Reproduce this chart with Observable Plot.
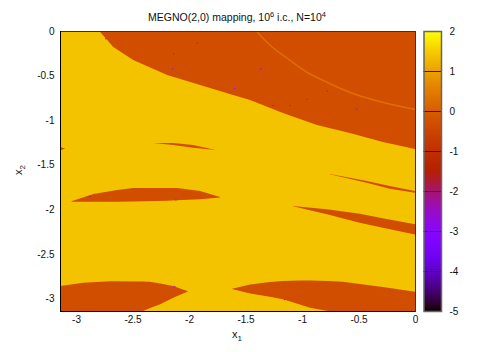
<!DOCTYPE html>
<html>
<head>
<meta charset="utf-8">
<script src="https://cdn.jsdelivr.net/npm/d3@7"></script>
<script src="https://cdn.jsdelivr.net/npm/@observablehq/plot@0.6"></script>
<style>
html,body{margin:0;padding:0;background:#fff}
#chart{position:relative;width:502px;height:352px;overflow:hidden;font-family:"Liberation Sans",sans-serif;color:#111}
#chart svg{position:absolute;left:0;top:0;background:transparent}
.lab{position:absolute;font-size:10px;line-height:12px;white-space:nowrap}
.lab sup{font-size:7.5px;line-height:0}
.lab sub{font-size:8px;line-height:0}
</style>
</head>
<body>
<div id="chart">
<div class="lab" id="title" style="left:0;width:474px;top:11px;text-align:center;font-size:10.5px">MEGNO(2,0) mapping, 10<sup>6</sup> i.c., N=10<sup>4</sup></div>
<div class="lab" style="left:232px;top:328px;font-size:11px">x<sub>1</sub></div>
<div class="lab" style="left:13px;top:164px;font-size:11px;transform:rotate(-90deg)">x<sub>2</sub></div>
</div>
<script>
const PI = Math.PI;
const xTicks = [-3, -2.5, -2, -1.5, -1, -0.5, 0];
const yTicks = [-3, -2.5, -2, -1.5, -1, -0.5, 0];
const barTicks = [-5, -4, -3, -2, -1, 0, 1, 2];
const chaoticLevel = 1.4;
const regularLevel = -0.3;
const ringLevel = 0.3;

const bigX = [-2.786, -2.67, -2.494, -2.193, -1.902, -1.61, -1.46, -1.169, -0.868, -0.577, -0.285, 0];
const bigLow = [-0.01, -0.18, -0.325, -0.494, -0.606, -0.718, -0.774, -0.92, -1.055, -1.145, -1.246, -1.324];

const ringX = [-1.398, -1.284, -1.133, -0.957, -0.78, -0.577, -0.285, 0];
const ringY = [-0.01, -0.157, -0.303, -0.46, -0.572, -0.685, -0.797, -0.875];

const lens1X = [-2.317, -2.14, -1.964, -1.761];
const lens1Top = [-1.257, -1.257, -1.279, -1.336];
const lens1Low = [-1.257, -1.279, -1.31, -1.336];

const sliverX = [-PI, -3.095];
const sliverTop = [-1.302, -1.319];
const sliverLow = [-1.341, -1.319];

const lens2X = [-3.04, -2.847, -2.635, -2.494, -2.193, -2.105, -1.902, -1.725];
const lens2Top = [-1.911, -1.829, -1.785, -1.762, -1.762, -1.762, -1.796, -1.863];
const lens2Low = [-1.915, -1.916, -1.916, -1.914, -1.905, -1.9, -1.889, -1.869];

const botLeftX = [-PI, -2.935, -2.697, -2.405, -2.344, -2.255, -2.14, -2.01];
const botLeftTop = [-2.862, -2.825, -2.809, -2.811, -2.814, -2.834, -2.862, -2.921];
const botLeftLow = [-PI, -PI, -PI, -PI, -3.109, -3.067, -2.993, -2.924];

const botMidX = [-1.619, -1.46, -1.284, -1.169, -1.019, -0.93, -0.771, -0.639, -0.285, 0];
const botMidTop = [-2.892, -2.843, -2.817, -2.806, -2.798, -2.8, -2.806, -2.814, -2.873, -2.926];
const botMidLow = [-2.895, -2.944, -2.982, -3.011, -3.07, -3.105, -PI, -PI, -PI, -PI];

const lensAX = [-1.08, -0.78, -0.489, -0.285, 0];
const lensATop = [-1.964, -2.001, -2.05, -2.102, -2.169];
const lensALow = [-1.966, -2.057, -2.152, -2.208, -2.282];

const lensBX = [-0.754, -0.427, -0.224, 0];
const lensBTop = [-1.605, -1.683, -1.74, -1.796];
const lensBLow = [-1.607, -1.703, -1.77, -1.815];

const speckX = [-2.74, -1.93, -2.14, -2.15, -1.6, -1.26, -1.11, -0.96, -0.78, -0.52, -1.37, -2.88, -2.12, -2.13, -1.16];
const speckY = [-0.08, -0.13, -0.25, -0.42, -0.64, -0.83, -0.83, -0.76, -0.67, -0.87, -0.42, -1.85, -1.89, -2.86, -3.01];

const palette = t => d3.rgb(255 * Math.sqrt(t), 255 * t * t * t, 255 * Math.max(0, Math.sin(2 * PI * t))).formatRgb();
const color = {type: "linear", domain: [-5, 2], interpolate: palette};

const table = (xs, tops, lows) => xs.map((x, i) => ({x, top: tops[i], low: lows[i]}));
const patch = (xs, tops, lows) =>
  Plot.areaY(table(xs, tops, lows), {x: "x", y1: "low", y2: "top", fill: () => regularLevel});

const main = Plot.plot({
  width: 502, height: 352,
  marginLeft: 60, marginRight: 87, marginTop: 31, marginBottom: 41,
  style: {fontFamily: "'Liberation Sans',sans-serif", fontSize: "10px", color: "#111"},
  x: {domain: [-PI, 0], ticks: xTicks, tickSize: 0, tickPadding: 4, tickFormat: d => String(d), label: null},
  y: {domain: [-PI, 0], ticks: yTicks, tickSize: 0, tickPadding: 6, tickFormat: d => String(d), label: null},
  color,
  marks: [
    Plot.rect([0], {x1: () => -PI, x2: () => 0, y1: () => -PI, y2: () => 0, fill: () => chaoticLevel}),
    patch(bigX, Array(bigX.length).fill(0), bigLow),
    patch(lens1X, lens1Top, lens1Low),
    patch(sliverX, sliverTop, sliverLow),
    patch(lens2X, lens2Top, lens2Low),
    patch(botLeftX, botLeftTop, botLeftLow),
    patch(botMidX, botMidTop, botMidLow),
    patch(lensAX, lensATop, lensALow),
    patch(lensBX, lensBTop, lensBLow),
    Plot.line(table(ringX, ringY, ringY), {x: "x", y: "top", stroke: () => ringLevel, strokeWidth: 1.5, curve: "monotone-x"}),
    Plot.dot(speckX.map((x, i) => ({x, y: speckY[i]})), {x: "x", y: "y", r: 0.6, fill: () => -3}),
    Plot.frame({stroke: "#333"}),
    Plot.ruleX([-PI], {stroke: "#000"}),
    Plot.ruleY([-PI], {stroke: "#000"})
  ]
});

const bar = Plot.plot({
  width: 502, height: 352,
  marginLeft: 423.5, marginRight: 61, marginTop: 31, marginBottom: 41,
  style: {fontFamily: "'Liberation Sans',sans-serif", fontSize: "10px", color: "#111", background: "transparent"},
  x: {domain: [0, 1], axis: null},
  y: {domain: [-5, 2], axis: "right", ticks: barTicks, tickSize: 0, tickPadding: 8, tickFormat: d => String(d), label: null},
  color,
  marks: [
    Plot.raster({x1: 0, x2: 1, y1: -5, y2: 2, fill: (x, y) => y, pixelSize: 1, imageRendering: "auto"}),
    Plot.tickY(barTicks.slice(1, -1), {y: d => d, x1: () => 0, x2: () => 0.2, stroke: "#222"}),
    Plot.tickY(barTicks.slice(1, -1), {y: d => d, x1: () => 0.8, x2: () => 1, stroke: "#222"}),
    Plot.frame({stroke: "#666", strokeWidth: 1.5})
  ]
});

const chart = document.getElementById("chart");
chart.prepend(bar);
chart.prepend(main);
</script>
</body>
</html>
